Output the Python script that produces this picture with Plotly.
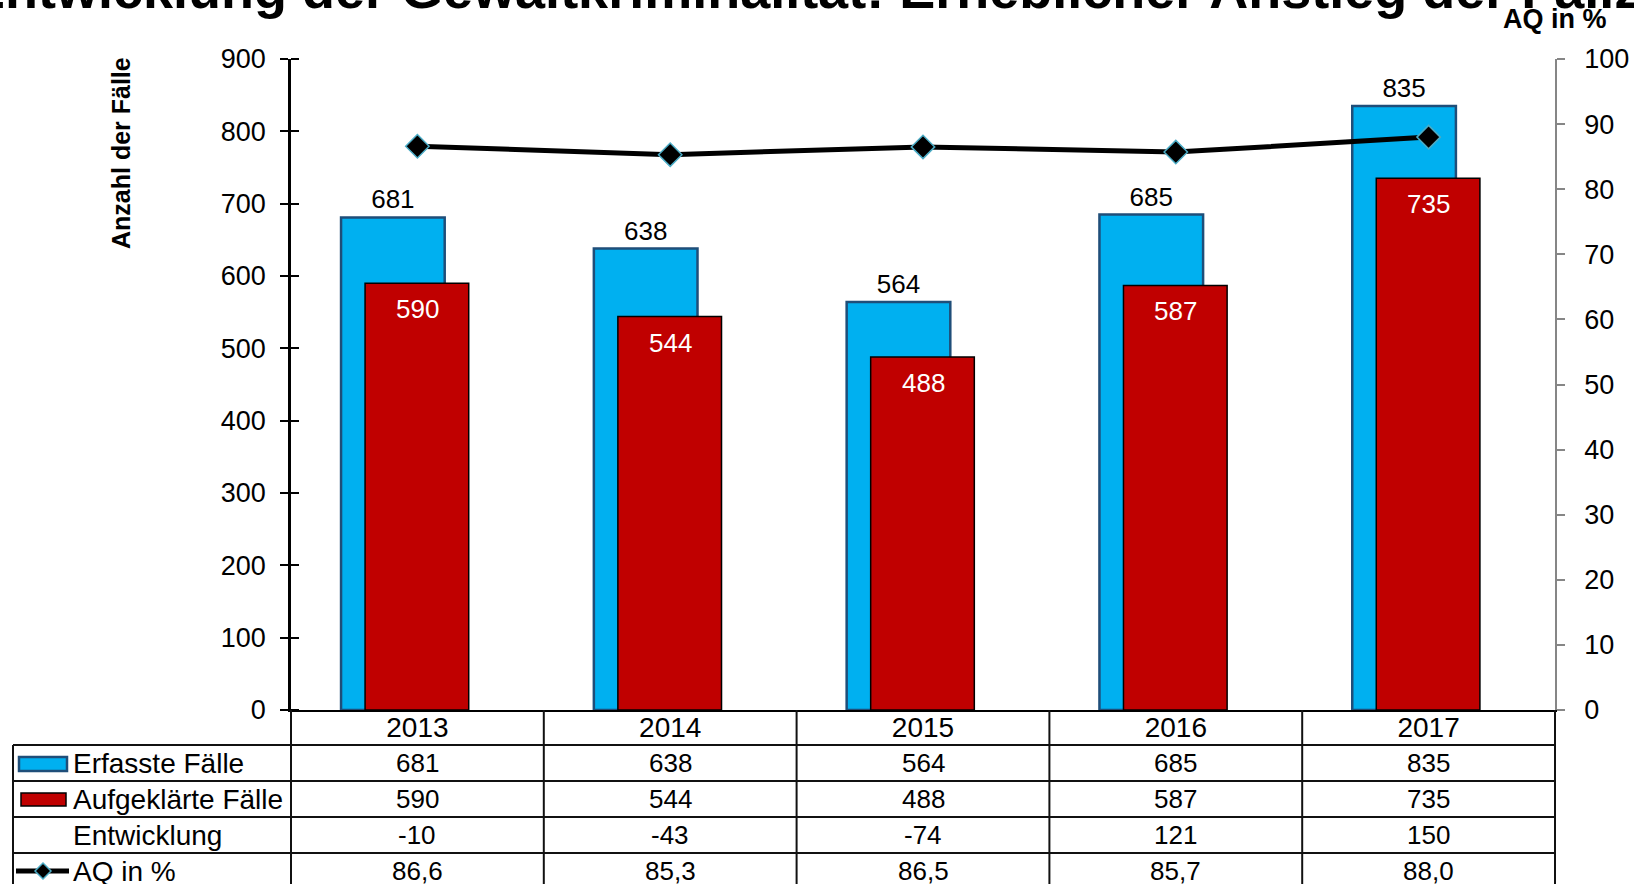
import plotly.graph_objects as go

# data
years = ["2013", "2014", "2015", "2016", "2017"]
erfasst = [681, 638, 564, 685, 835]
aufgeklaert = [590, 544, 488, 587, 735]
entwicklung = [-10, -43, -74, 121, 150]
aq = [86.6, 85.3, 86.5, 85.7, 88.0]

row_labels = ["Erfasste Fälle", "Aufgeklärte Fälle", "Entwicklung", "AQ in %"]

FONT = "Liberation Sans, Arial, sans-serif"
BLUE = "#00B0F0"
BLUE_EDGE = "#1F4E79"
RED = "#C00000"
DIAMOND_EDGE = "#4BACC6"

# page geometry (px)
W, H = 1634, 884
L, R, T, B = 291, 1555, 59, 710
PW, PH = R - L, B - T


def px(x):
    return (x - L) / PW


def py(y):
    return (B - y) / PH


fig = go.Figure()

fig.add_trace(go.Bar(
    x=years, y=erfasst, name="Erfasste Fälle",
    width=0.41, offset=-0.302,
    marker=dict(color=BLUE, line=dict(color=BLUE_EDGE, width=2.5)),
    texttemplate="%{y}", textposition="outside",
    textfont=dict(size=26, color="black", family=FONT),
    cliponaxis=False, showlegend=False
))

fig.add_trace(go.Bar(
    x=years, y=aufgeklaert, name="Aufgeklärte Fälle",
    width=0.41, offset=-0.207,
    marker=dict(color=RED, line=dict(color="black", width=1.5)),
    showlegend=False
))

fig.add_trace(go.Scatter(
    x=years, y=aq, yaxis="y2", name="AQ in %",
    mode="lines+markers",
    line=dict(color="black", width=5),
    marker=dict(symbol="diamond", size=18, color="black",
                line=dict(color=DIAMOND_EDGE, width=1.5)),
    showlegend=False
))

# invisible trace so the helper axis (inner half of the crossing ticks) gets drawn
fig.add_trace(go.Scatter(x=years, y=erfasst, yaxis="y3", mode="markers",
                         marker=dict(opacity=0), showlegend=False, hoverinfo="skip"))

annotations = []

# white labels inside the red bars (category index as x)
for i, v in enumerate(aufgeklaert):
    annotations.append(dict(
        x=i, y=v, xref="x", yref="y", text=str(v), showarrow=False,
        xanchor="center", yanchor="top", yshift=-9,
        font=dict(size=26, color="white", family=FONT)
    ))

# title, cut off at the top of the page
annotations.append(dict(
    x=px(-33), y=py(21), xref="paper", yref="paper", xanchor="left", yanchor="bottom",
    text="<b>Entwicklung der Gewaltkriminalität: Erheblicher Anstieg der Fallzahlen</b>",
    showarrow=False, font=dict(size=54, color="black", family=FONT)
))

# axis titles
annotations.append(dict(
    x=px(121), y=py(153), xref="paper", yref="paper", textangle=-90,
    xanchor="center", yanchor="middle",
    text="<b>Anzahl der Fälle</b>", showarrow=False,
    font=dict(size=25, color="black", family=FONT)
))
annotations.append(dict(
    x=1.0, y=py(19), xref="paper", yref="paper", xanchor="center", yanchor="middle",
    text="<b>AQ in %</b>", showarrow=False,
    font=dict(size=27, color="black", family=FONT)
))

# data table below the chart
row_top = 745
row_h = 36
table_rows = [
    [str(v) for v in erfasst],
    [str(v) for v in aufgeklaert],
    [str(v) for v in entwicklung],
    [f"{v:.1f}".replace(".", ",") for v in aq],
]
for r, (label, vals) in enumerate(zip(row_labels, table_rows)):
    yc = row_top + row_h * r + row_h / 2
    annotations.append(dict(
        x=px(71), y=py(yc), xref="paper", yref="paper",
        xanchor="left", yanchor="middle",
        text=label, showarrow=False, font=dict(size=28, color="black", family=FONT)
    ))
    for i, t in enumerate(vals):
        annotations.append(dict(
            x=i, y=py(yc), xref="x", yref="paper", text=t, showarrow=False,
            xanchor="center", yanchor="middle",
            font=dict(size=26, color="black", family=FONT)
        ))

shapes = []
grid = dict(color="#111111", width=2)
n = len(years)
for i in range(n + 1):
    shapes.append(dict(type="line", xref="paper", yref="paper",
                       x0=i / n, x1=i / n, y0=py(B), y1=py(H + 10), line=grid))
shapes.append(dict(type="line", xref="paper", yref="paper",
                   x0=px(13), x1=px(13), y0=py(row_top), y1=py(H + 10), line=grid))
for r in range(len(row_labels)):
    yy = row_top + row_h * r
    shapes.append(dict(type="line", xref="paper", yref="paper",
                       x0=px(13), x1=1, y0=py(yy), y1=py(yy), line=grid))

# legend keys inside the table
shapes.append(dict(type="rect", xref="paper", yref="paper",
                   x0=px(19), x1=px(67), y0=py(757), y1=py(771),
                   fillcolor=BLUE, line=dict(color=BLUE_EDGE, width=2.5)))
shapes.append(dict(type="rect", xref="paper", yref="paper",
                   x0=px(21), x1=px(66), y0=py(793), y1=py(806),
                   fillcolor=RED, line=dict(color="black", width=1.5)))
key_y = row_top + row_h * 3 + row_h / 2
shapes.append(dict(type="line", xref="paper", yref="paper",
                   x0=px(16), x1=px(69), y0=py(key_y), y1=py(key_y),
                   line=dict(color="black", width=5)))
cx, d = 43, 8
shapes.append(dict(type="path", xref="paper", yref="paper",
                   path=(f"M {px(cx - d)} {py(key_y)} L {px(cx)} {py(key_y - d)} "
                         f"L {px(cx + d)} {py(key_y)} L {px(cx)} {py(key_y + d)} Z"),
                   fillcolor="black", line=dict(color=DIAMOND_EDGE, width=1.5)))

fig.update_layout(
    width=W, height=H,
    margin=dict(l=L, r=W - R, t=T, b=H - B, pad=0),
    paper_bgcolor="white", plot_bgcolor="white",
    barmode="overlay",
    font=dict(family=FONT, color="black"),
    xaxis=dict(
        type="category", range=[-0.5, n - 0.5], domain=[0, 1],
        showline=True, linecolor="black", linewidth=2,
        ticks="", showgrid=False, zeroline=False,
        ticklabelstandoff=-9,
        tickfont=dict(size=28, color="black", family=FONT),
        automargin=False
    ),
    yaxis=dict(
        range=[0, 900], dtick=100, tick0=0,
        showline=True, linecolor="black", linewidth=2.5,
        ticks="outside", ticklen=8, tickwidth=1.5, tickcolor="black",
        ticklabelstandoff=9,
        showgrid=False, zeroline=False,
        tickfont=dict(size=27, color="black", family=FONT),
        automargin=False
    ),
    yaxis2=dict(
        range=[0, 100], dtick=10, tick0=0, overlaying="y", side="right",
        showline=True, linecolor="#868686", linewidth=1.5,
        ticks="outside", ticklen=8, tickwidth=1.5, tickcolor="#868686",
        ticklabelstandoff=14,
        showgrid=False, zeroline=False,
        tickfont=dict(size=27, color="black", family=FONT),
        automargin=False
    ),
    # helper axis sitting 8px right of the left axis: its outside ticks
    # draw the inner half of the crossing tick marks
    yaxis3=dict(
        range=[0, 900], dtick=100, tick0=0, overlaying="y", side="left",
        anchor="free", position=8 / PW,
        showline=False, showticklabels=False,
        ticks="outside", ticklen=8, tickwidth=1.5, tickcolor="black",
        showgrid=False, zeroline=False, automargin=False
    ),
    annotations=annotations,
    shapes=shapes,
)

fig.write_html("out.html", config={"displayModeBar": False},
               post_script="document.body.style.margin='0';")
